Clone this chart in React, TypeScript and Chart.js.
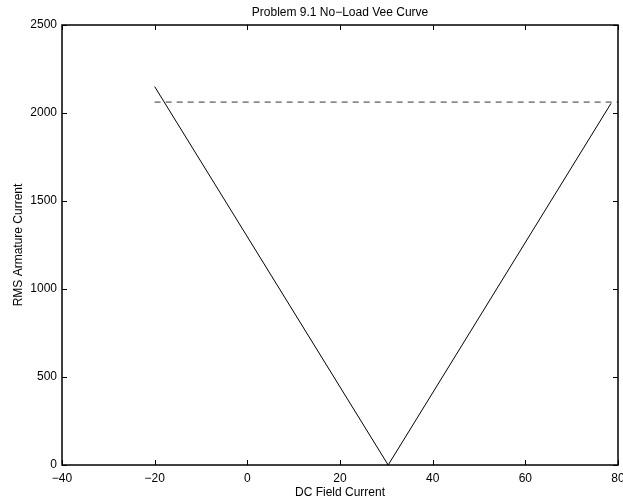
import React, { useEffect, useRef } from "react";
import { Chart, registerables } from "chart.js";

Chart.register(...registerables);

// Vee curve (DC field current vs RMS armature current)
const veeFieldCurrent = [-20, 30.4, 78.5];
const veeArmatureCurrent = [2150, 0, 2055];

// Rated current reference (dashed)
const ratedFieldCurrent = [-20, 80];
const ratedArmatureCurrent = [2062, 2062];

const xTicks = [-40, -20, 0, 20, 40, 60, 80];
const yTicks = [0, 500, 1000, 1500, 2000, 2500];

const titleText = "Problem 9.1 No\u2212Load Vee Curve";
const xTitle = "DC Field Current";
const yTitle = "RMS Armature Current";

const FONT = { family: "'Liberation Sans', Arial, Helvetica, sans-serif", size: 12 };

const boxPlugin = {
  id: "matlabBox",
  afterDatasetsDraw(chart: any) {
    const { ctx, chartArea, scales } = chart;
    const { left, right, top, bottom } = chartArea;
    const tl = 5;
    ctx.save();
    ctx.strokeStyle = "#000";
    ctx.lineWidth = 1;
    scales.x.ticks.forEach((t: any) => {
      const px = Math.round(scales.x.getPixelForValue(t.value)) + 0.5;
      ctx.beginPath();
      ctx.moveTo(px, bottom);
      ctx.lineTo(px, bottom - tl);
      ctx.moveTo(px, top);
      ctx.lineTo(px, top + tl);
      ctx.stroke();
    });
    scales.y.ticks.forEach((t: any) => {
      const py = Math.round(scales.y.getPixelForValue(t.value)) + 0.5;
      ctx.beginPath();
      ctx.moveTo(left, py);
      ctx.lineTo(left + tl, py);
      ctx.moveTo(right, py);
      ctx.lineTo(right - tl, py);
      ctx.stroke();
    });
    ctx.lineWidth = 1.5;
    ctx.strokeRect(left, top, right - left, bottom - top);
    ctx.restore();
  },
};

export default function App() {
  const canvasRef = useRef<HTMLCanvasElement | null>(null);

  useEffect(() => {
    if (!canvasRef.current) return;
    const chart = new Chart(canvasRef.current, {
      type: "line",
      data: {
        datasets: [
          {
            label: "Vee curve",
            data: veeFieldCurrent.map((x, i) => ({ x, y: veeArmatureCurrent[i] })),
            borderColor: "#000",
            borderWidth: 1,
            pointRadius: 0,
            fill: false,
            tension: 0,
          },
          {
            label: "Rated current",
            data: ratedFieldCurrent.map((x, i) => ({ x, y: ratedArmatureCurrent[i] })),
            borderColor: "#333",
            borderWidth: 1,
            borderDash: [6, 5],
            pointRadius: 0,
            fill: false,
            tension: 0,
          },
        ],
      },
      options: {
        responsive: false,
        animation: false,
        devicePixelRatio: 1,
        layout: { padding: { left: 0, right: 5, top: 0, bottom: 0 } },
        plugins: {
          legend: { display: false },
          tooltip: { enabled: false },
          title: {
            display: true,
            fullSize: false,
            text: titleText,
            color: "#000",
            font: { ...FONT, weight: "normal" },
            padding: { top: 5, bottom: 5.6 },
          },
        },
        scales: {
          x: {
            type: "linear",
            min: -40,
            max: 80,
            afterBuildTicks: (s: any) => {
              s.ticks = xTicks.map((v) => ({ value: v }));
            },
            ticks: {
              color: "#000",
              font: FONT,
              padding: 6,
              maxRotation: 0,
              autoSkip: false,
              callback: (v: any) => String(v).replace("-", "\u2212"),
            },
            grid: { display: false, drawTicks: false, tickLength: 0 },
            border: { display: false },
            title: {
              display: true,
              text: xTitle,
              color: "#000",
              font: FONT,
              padding: { top: 0, bottom: 2 },
            },
            afterFit: (s: any) => {
              s.height = 37;
              s.paddingLeft = 0;
              s.paddingRight = 0;
            },
          },
          y: {
            type: "linear",
            min: 0,
            max: 2500,
            afterBuildTicks: (s: any) => {
              s.ticks = yTicks.map((v) => ({ value: v }));
            },
            ticks: {
              color: "#000",
              font: FONT,
              padding: 5,
              autoSkip: false,
              callback: (v: any) => String(v),
            },
            grid: { display: false, drawTicks: false, tickLength: 0 },
            border: { display: false },
            title: {
              display: true,
              text: yTitle,
              color: "#000",
              font: FONT,
              padding: { top: 11, bottom: 0 },
            },
            afterFit: (s: any) => {
              s.width = 62;
            },
          },
        },
      },
      plugins: [boxPlugin],
    });
    return () => chart.destroy();
  }, []);

  return (
    <div style={{ position: "absolute", left: 0, top: 0, width: 623, height: 502, background: "#fff" }}>
      <canvas ref={canvasRef} width={623} height={502} />
    </div>
  );
}
